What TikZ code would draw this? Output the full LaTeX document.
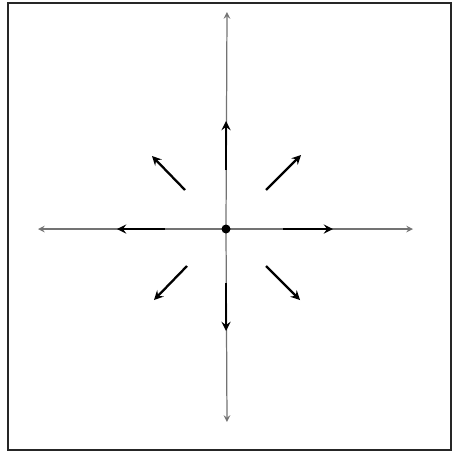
\documentclass[tikz,border=0pt]{standalone}
\usepackage{tikz}
\usetikzlibrary{calc,arrows}

\begin{document}
\begin{tikzpicture}[x=0.02cm,y=-0.02cm,>=stealth]
			\useasboundingbox (0,0) rectangle (454,453);
			\draw[line width=1.6pt,black!85] (8,3) rectangle (451,450);
			
			\coordinate (O) at (226,229);
			\coordinate (L) at (38,229);
			\coordinate (R) at (413,229);
			\coordinate (T) at (227,12);
			\coordinate (B) at (227,422);
			
			\draw[->,black!55,line width=0.7pt] (O)--(L);
			\draw[->,black!55,line width=0.7pt] (O)--(R);
			\draw[->,black!55,line width=0.7pt] (O)--(T);
			\draw[->,black!55,line width=0.7pt] (O)--(B);
			
			\fill (O) circle (4.5);
			
			\draw[->,line width=1.3pt] ($(O)+(0,-59)$)--($(O)+(0,-108)$);
			\draw[->,line width=1.3pt] ($(O)+(0,54)$)--($(O)+(0,102)$);
			\draw[->,line width=1.3pt] ($(O)+(-61,0)$)--($(O)+(-109,0)$);
			\draw[->,line width=1.3pt] ($(O)+(57,0)$)--($(O)+(107,0)$);
			
			\draw[->,line width=1.3pt] ($(O)+(40,-39)$)--($(O)+(75,-74)$);
			\draw[->,line width=1.3pt] ($(O)+(-41,-39)$)--($(O)+(-74,-73)$);
			\draw[->,line width=1.3pt] ($(O)+(-39,37)$)--($(O)+(-72,71)$);
			\draw[->,line width=1.3pt] ($(O)+(40,37)$)--($(O)+(74,71)$);
		\end{tikzpicture}
\end{document}
